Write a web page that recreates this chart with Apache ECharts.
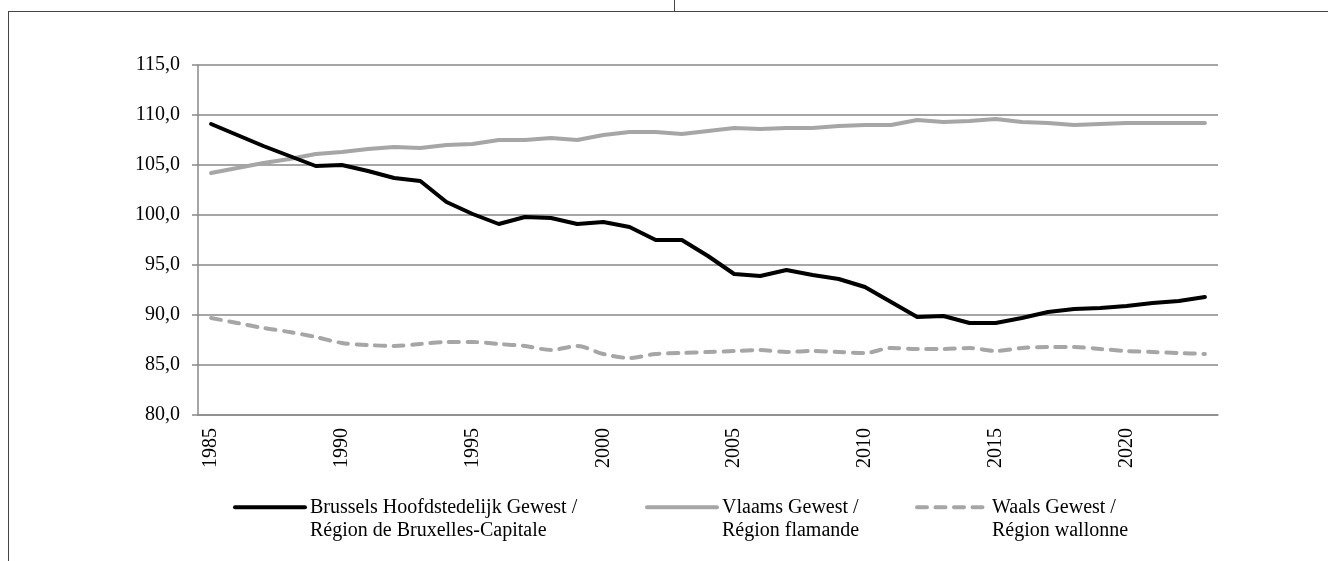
<!DOCTYPE html>
<html>
<head>
<meta charset="utf-8">
<script src="https://cdn.jsdelivr.net/npm/echarts@6/dist/echarts.min.js"></script>
<style>
  html, body { margin: 0; padding: 0; background: #fff; }
  #frame { position: absolute; left: 8px; top: 11px; right: -2px; bottom: -2px; border-left: 1px solid #444; border-top: 1px solid #444; }
  #notch { position: absolute; left: 674px; top: 0; width: 1px; height: 12px; background: #444; }
  #chart { position: absolute; left: 0; top: 0; width: 1328px; height: 561px; }
</style>
</head>
<body>
<div id="frame"></div>
<div id="notch"></div>
<div id="chart"></div>
<script>
const years = [];
for (let y = 1985; y <= 2023; y++) years.push(String(y));

const seriesNames = [
  'Brussels Hoofdstedelijk Gewest /\nRégion de Bruxelles-Capitale',
  'Vlaams Gewest /\nRégion flamande',
  'Waals Gewest /\nRégion wallonne'
];

const brussels = [
  109.1, 108.0, 106.9, 105.9, 104.9, 105.0, 104.4, 103.7, 103.4, 101.3,
  100.1, 99.1, 99.8, 99.7, 99.1, 99.3, 98.8, 97.5, 97.5, 95.9,
  94.1, 93.9, 94.5, 94.0, 93.6, 92.8, 91.3, 89.8, 89.9, 89.2,
  89.2, 89.7, 90.3, 90.6, 90.7, 90.9, 91.2, 91.4, 91.8
];

const vlaams = [
  104.2, 104.7, 105.2, 105.6, 106.1, 106.3, 106.6, 106.8, 106.7, 107.0,
  107.1, 107.5, 107.5, 107.7, 107.5, 108.0, 108.3, 108.3, 108.1, 108.4,
  108.7, 108.6, 108.7, 108.7, 108.9, 109.0, 109.0, 109.5, 109.3, 109.4,
  109.6, 109.3, 109.2, 109.0, 109.1, 109.2, 109.2, 109.2, 109.2
];

const waals = [
  89.7, 89.2, 88.7, 88.3, 87.8, 87.2, 87.0, 86.9, 87.1, 87.3,
  87.3, 87.1, 86.9, 86.5, 86.9, 86.1, 85.7, 86.1, 86.2, 86.3,
  86.4, 86.5, 86.3, 86.4, 86.3, 86.2, 86.7, 86.6, 86.6, 86.7,
  86.4, 86.7, 86.8, 86.8, 86.6, 86.4, 86.3, 86.2, 86.1
];

const yMin = 80, yMax = 115, yStep = 5;

const font = 'Liberation Serif, Times New Roman, serif';
const axisGray = '#898989';

const chart = echarts.init(document.getElementById('chart'));

function legendAt(left, name) {
  return {
    data: [name],
    left: left,
    top: 472,
    padding: 0,
    orient: 'horizontal',
    itemWidth: 70,
    itemHeight: 14,
    selectedMode: false,
    // hide the symbol drawn in the middle of the legend line
    itemStyle: { color: 'rgba(0,0,0,0)', borderWidth: 0 },
    lineStyle: { width: 4, cap: 'round' },
    formatter: function (n) { return ' \n' + n; },
    textStyle: { fontFamily: font, fontSize: 20, color: '#000', lineHeight: 23.5 }
  };
}

chart.setOption({
  animation: false,
  grid: { left: 198, right: 110, top: 65, height: 350 },
  legend: [
    legendAt(233, seriesNames[0]),
    legendAt(645, seriesNames[1]),
    legendAt(915, seriesNames[2])
  ],
  xAxis: {
    type: 'category',
    data: years,
    boundaryGap: true,
    axisLine: { lineStyle: { color: axisGray, width: 1.5 } },
    axisTick: { interval: 0, length: 6, lineStyle: { color: axisGray, width: 1.5 } },
    axisLabel: {
      interval: 4,
      rotate: 90,
      margin: 13,
      fontFamily: font,
      fontSize: 20,
      color: '#000'
    }
  },
  yAxis: {
    type: 'value',
    min: yMin,
    max: yMax,
    interval: yStep,
    axisLine: { show: true, lineStyle: { color: axisGray, width: 1.5 } },
    axisTick: { show: true, length: 6, lineStyle: { color: axisGray, width: 1.5 } },
    splitLine: { lineStyle: { color: axisGray, width: 1.5 } },
    axisLabel: {
      margin: 18,
      fontFamily: font,
      fontSize: 20,
      color: '#000',
      formatter: function (v) { return v.toFixed(1).replace('.', ','); }
    }
  },
  series: [
    {
      name: seriesNames[0],
      type: 'line',
      data: brussels,
      symbol: 'none',
      lineStyle: { color: '#000', width: 4, cap: 'round', join: 'round' },
      itemStyle: { color: '#000' },
      z: 4
    },
    {
      name: seriesNames[1],
      type: 'line',
      data: vlaams,
      symbol: 'none',
      lineStyle: { color: '#a6a6a6', width: 4, cap: 'round', join: 'round' },
      itemStyle: { color: '#a6a6a6' },
      z: 3
    },
    {
      name: seriesNames[2],
      type: 'line',
      data: waals,
      symbol: 'none',
      smooth: 0.3,
      lineStyle: { color: '#a6a6a6', width: 4, type: [10, 8.5], cap: 'round', join: 'round' },
      itemStyle: { color: '#a6a6a6' },
      z: 3
    }
  ]
});
</script>
</body>
</html>
